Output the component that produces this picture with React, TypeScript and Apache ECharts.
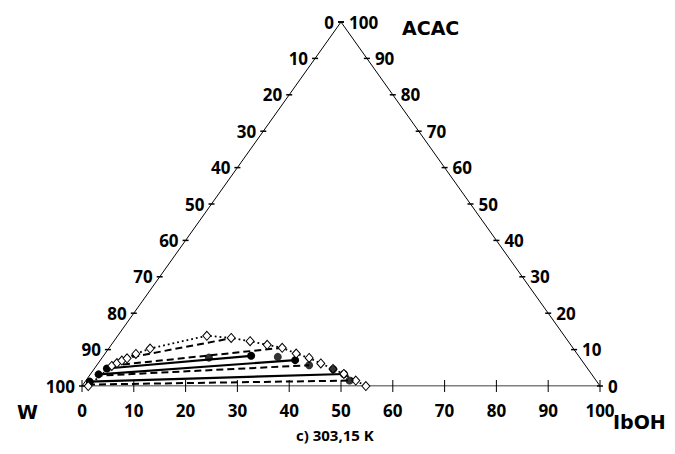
import { useEffect, useRef } from "react";
import * as echarts from "echarts";

// Tick labels along each edge (wt %)
const TICKS = [0, 10, 20, 30, 40, 50, 60, 70, 80, 90, 100];

// Binodal curve (IbOH wt%, ACAC wt%) – open diamonds, dotted
const binodalIbOH = [1.2, 3.0, 3.6, 4.2, 4.9, 6.0, 8.0, 17.2, 22.2, 26.3, 30.1, 33.4, 36.9, 40.0, 43.0, 46.1, 48.9, 52.1, 54.8];
const binodalACAC = [0.0, 5.5, 6.3, 7.0, 7.6, 8.8, 10.3, 13.8, 13.2, 12.3, 11.3, 10.5, 8.9, 7.7, 6.2, 4.7, 3.3, 1.5, 0.0];

// Experimental tie-lines (solid, filled circles)
const expLeftIbOH = [0.9, 1.6, 2.4];
const expLeftACAC = [1.2, 3.2, 4.8];
const expRightIbOH = [48.9, 37.6, 28.5];
const expRightACAC = [3.3, 7.1, 8.3];

// Additional experimental points (filled circles)
const expPointIbOH = [20.6, 33.8, 41.0, 46.2, 50.9];
const expPointACAC = [7.8, 8.0, 5.7, 4.6, 1.5];

// Calculated tie-lines (dashed)
const calcLeftIbOH = [0.95, 1.2, 3.0, 3.9];
const calcLeftACAC = [0.4, 2.8, 5.6, 7.4];
const calcRightIbOH = [51.4, 41.0, 33.4, 22.2];
const calcRightACAC = [1.5, 5.7, 10.5, 13.1];

const toXY = (ib: number, ac: number): [number, number] => [ib + ac / 2, ac];

const LABEL_FONT = "'Open Sans', 'Liberation Sans', sans-serif";
const NAME_FONT = "'DejaVu Sans', 'Verdana', sans-serif";

export default function App() {
  const ref = useRef<HTMLDivElement>(null);

  useEffect(() => {
    const chart = echarts.init(ref.current!, null, { renderer: "svg" });

    // tick data: [X, Y, label, side]  side 0 = bottom (IbOH), 1 = left (W), 2 = right (ACAC)
    const tickData: any[] = [];
    TICKS.forEach((v) => {
      const b = toXY(v, 0);
      tickData.push([b[0], b[1], v, 0]);
      const l = toXY(0, 100 - v);
      tickData.push([l[0], l[1], v, 1]);
      const r = toXY(100 - v, v);
      tickData.push([r[0], r[1], v, 2]);
    });

    const series: any[] = [];

    // Triangle frame
    series.push({
      type: "line",
      data: [toXY(0, 0), toXY(100, 0), toXY(0, 100), toXY(0, 0)],
      symbol: "none",
      lineStyle: { color: "#000", width: 1 },
      silent: true,
      z: 1,
    });

    // Ticks and labels
    series.push({
      type: "custom",
      coordinateSystem: "cartesian2d",
      clip: false,
      silent: true,
      z: 2,
      data: tickData,
      renderItem: (_params: any, api: any) => {
        const p = api.coord([api.value(0), api.value(1)]);
        const label = String(api.value(2));
        const side = api.value(3);
        const textStyle = {
          fill: "#000",
          fontSize: 17,
          fontWeight: "bold",
          fontFamily: LABEL_FONT,
        };
        if (side === 0) {
          return {
            type: "group",
            children: [
              { type: "line", shape: { x1: p[0], y1: p[1] - 6, x2: p[0], y2: p[1] + 6 }, style: { stroke: "#000", lineWidth: 1 } },
              { type: "text", style: { ...textStyle, text: label, x: p[0], y: p[1] + 24, align: "center", verticalAlign: "middle" } },
            ],
          };
        }
        if (side === 1) {
          return {
            type: "group",
            children: [
              { type: "line", shape: { x1: p[0] - 3, y1: p[1], x2: p[0] + 3, y2: p[1] }, style: { stroke: "#000", lineWidth: 1.5 } },
              { type: "text", style: { ...textStyle, text: label, x: p[0] - 7, y: p[1], align: "right", verticalAlign: "middle" } },
            ],
          };
        }
        return {
          type: "group",
          children: [
            { type: "line", shape: { x1: p[0] - 3, y1: p[1], x2: p[0] + 3, y2: p[1] }, style: { stroke: "#000", lineWidth: 1.5 } },
            { type: "text", style: { ...textStyle, text: label, x: p[0] + 8, y: p[1], align: "left", verticalAlign: "middle" } },
          ],
        };
      },
    });

    // Calculated tie-lines (dashed)
    calcLeftIbOH.forEach((_, i) => {
      series.push({
        type: "line",
        data: [toXY(calcLeftIbOH[i], calcLeftACAC[i]), toXY(calcRightIbOH[i], calcRightACAC[i])],
        symbol: "none",
        lineStyle: { color: "#000", width: 2, type: [7, 4] },
        z: 3,
      });
    });

    // Experimental tie-lines (solid)
    expLeftIbOH.forEach((_, i) => {
      series.push({
        type: "line",
        data: [toXY(expLeftIbOH[i], expLeftACAC[i]), toXY(expRightIbOH[i], expRightACAC[i])],
        symbol: "circle",
        symbolSize: 8,
        itemStyle: { color: "#000" },
        lineStyle: { color: "#000", width: 2.2 },
        z: 4,
      });
    });

    // Binodal (dotted with open diamonds)
    series.push({
      type: "line",
      data: binodalIbOH.map((b, i) => toXY(b, binodalACAC[i])),
      symbol: "diamond",
      symbolSize: [8, 9],
      showAllSymbol: true,
      itemStyle: { color: "#fff", borderColor: "#000", borderWidth: 1 },
      lineStyle: { color: "#000", width: 1.8, type: [1.8, 3] },
      z: 5,
    });

    // Extra experimental points
    series.push({
      type: "scatter",
      data: expPointIbOH.map((b, i) => toXY(b, expPointACAC[i])),
      symbol: "circle",
      symbolSize: 8,
      itemStyle: { color: "#000" },
      z: 6,
    });

    chart.setOption({
      animation: false,
      backgroundColor: "#fff",
      grid: { left: 82, top: 22, width: 518, height: 364 },
      xAxis: { type: "value", min: 0, max: 100, show: false },
      yAxis: { type: "value", min: 0, max: 100, show: false },
      series,
      graphic: [
        { type: "text", left: 402, top: 18, style: { text: "ACAC", fontSize: 19, fontWeight: "bold", fontFamily: NAME_FONT, fill: "#000" } },
        { type: "text", left: 17, top: 402, style: { text: "W", fontSize: 19, fontWeight: "bold", fontFamily: NAME_FONT, fill: "#000" } },
        { type: "text", left: 613, top: 412, style: { text: "IbOH", fontSize: 19, fontWeight: "bold", fontFamily: NAME_FONT, fill: "#000" } },
        { type: "text", left: 296, top: 427, style: { text: "c) 303,15 K", fontSize: 15, fontWeight: "bold", fontFamily: LABEL_FONT, fill: "#000" } },
      ],
    });

    return () => chart.dispose();
  }, []);

  return <div ref={ref} style={{ position: "absolute", left: 0, top: 0, width: 675, height: 454 }} />;
}
